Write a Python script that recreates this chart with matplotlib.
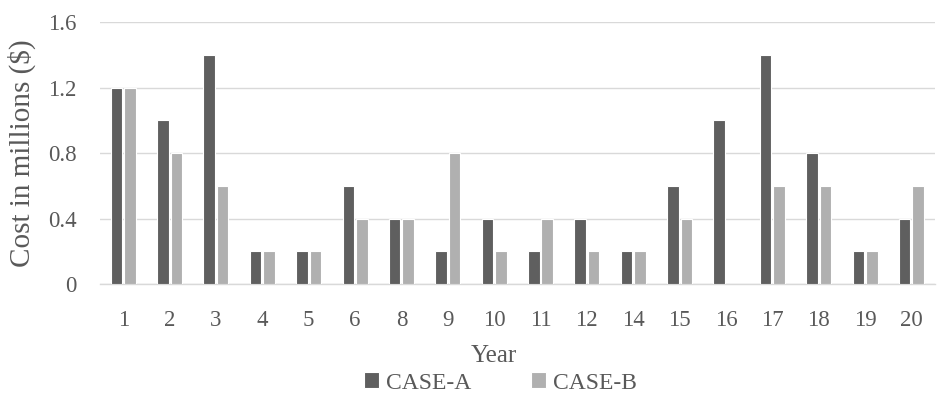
import matplotlib
matplotlib.use("Agg")
import matplotlib.pyplot as plt
import numpy as np

years = ["1", "2", "3", "4", "5", "6", "8", "9", "10", "11", "12", "14", "15", "16", "17", "18", "19", "20"]
case_a = [1.2, 1.0, 1.4, 0.2, 0.2, 0.6, 0.4, 0.2, 0.4, 0.2, 0.4, 0.2, 0.6, 1.0, 1.4, 0.8, 0.2, 0.4]
case_b = [1.2, 0.8, 0.6, 0.2, 0.2, 0.4, 0.4, 0.8, 0.2, 0.4, 0.2, 0.2, 0.4, 0.0, 0.6, 0.6, 0.2, 0.6]
yticks = [0, 0.4, 0.8, 1.2, 1.6]
ytick_labels = ["0", "0.4", "0.8", "1.2", "1.6"]

plt.rcParams['font.family'] = ['Liberation Serif', 'DejaVu Serif']
text_color = "#595959"

fig = plt.figure(figsize=(9.44, 3.94), dpi=100)
ax = fig.add_axes([0.106, 0.279, 0.884, 0.665])

x = np.arange(len(years))
off = 0.145
w = 0.25
ax.bar(x - off, case_a, w, color="#5f5f5f", edgecolor="white", linewidth=0.8, label="CASE-A", zorder=3)
ax.bar(x + off, case_b, w, color="#b0b0b0", edgecolor="white", linewidth=0.8, label="CASE-B", zorder=3)

ax.set_xlim(-0.5, len(years) - 0.5)
ax.set_ylim(0, 1.6)
ax.set_yticks(yticks)
ax.set_yticklabels(ytick_labels)
ax.set_xticks(x)
ax.set_xticklabels(years)
ax.grid(axis="y", color="#d9d9d9", linewidth=1, zorder=0)
for s in ["top", "right", "left"]:
    ax.spines[s].set_visible(False)
ax.spines["bottom"].set_color("#d9d9d9")
ax.spines["bottom"].set_linewidth(1)
ax.tick_params(axis="both", length=0, labelsize=16.5, colors=text_color)
ax.tick_params(axis="x", pad=19)
ax.tick_params(axis="y", pad=17)

ax.set_ylabel("Cost in millions ($)", fontsize=21, color=text_color)
ax.yaxis.set_label_coords(-0.077, 0.5)
ax.set_xlabel("Year", fontsize=18, color=text_color)
ax.xaxis.set_label_coords(0.472, -0.232)

leg = fig.legend(loc="center", bbox_to_anchor=(0.53, 0.028), ncol=2, frameon=False,
                 fontsize=17, handlelength=0.65, handleheight=0.65, handletextpad=0.3,
                 columnspacing=2.5, labelcolor=text_color, borderpad=0)
fig.savefig("out.png", dpi=100)
